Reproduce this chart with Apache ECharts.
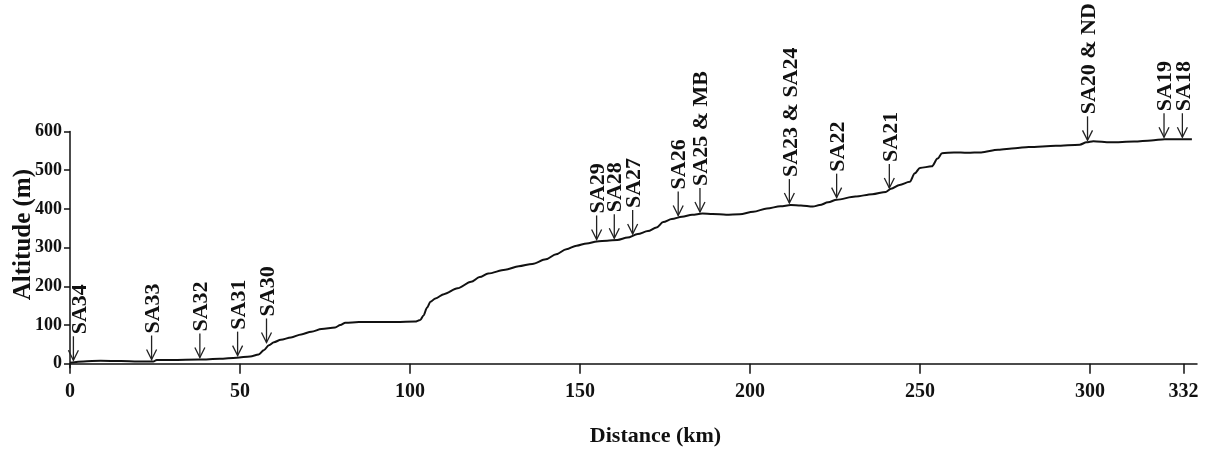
<!DOCTYPE html>
<html>
<head>
<meta charset="utf-8">
<script src="https://cdn.jsdelivr.net/npm/echarts@6/dist/echarts.min.js"></script>
<style>html,body{margin:0;padding:0;background:#fff}#chart{width:1205px;height:454px}</style>
</head>
<body>
<div id="chart"></div>
<script>
// Elevation profile (distance in km, altitude in m)
const distanceKm = [0,4,9,15,20,24.5,25.5,30,38,44,49,53,55.5,57,58.5,60,62,65,68,71,74,78,79.5,81,85,90,96,101.5,103,104,105,106,107.5,110,114,118,120.5,123,128,132,136,140,143,146,149,152,155,158,161,164,167,170,172.5,174.5,177,180,183,186,189,193,197,201,205,209,212,215,218.5,220.5,223,225.5,231,236,240,241.5,244,247,248.5,250,253.5,255.2,256.5,260,264,268,273,278,282,290,297,299,301,306,313,318,322,330];
const altitudeM = [3,6,8,7,6,6,10,10,11,13,16,19,24,35,48,56,62,68,76,83,90,94,100,106,108,108,108,109,113,125,145,160,169,180,195,212,224,233,243,252,258,270,283,296,305,311,316,318,320,326,335,343,352,366,374,380,385,388,387,385,386,393,401,407,410,409,406,410,417,424,432,438,444,452,462,470,492,506,510,530,544,546,545,546,553,557,560,563,566,572,575,572,574,577,580,580];

// Sampling stations
const stationNames = ['SA34','SA33','SA32','SA31','SA30','SA29','SA28','SA27','SA26','SA25 & MB','SA23 & SA24','SA22','SA21','SA20 & ND','SA19','SA18'];
const stationKm = [1,24,38.2,49.3,57.8,154.9,160.1,165.5,178.9,185.3,211.6,225.5,241,299.3,321.8,327.2];
const stationAlt = [4,6,11,16,50,316,319,330,378,387,410,424,449,572,580,580];

// Axis ticks
const xTickValues = [0,50,100,150,200,250,300,327.5];
const xTickLabels = ['0','50','100','150','200','250','300','332'];
const yTickValues = [0,100,200,300,400,500,600];

const FONT = 'Liberation Serif';
const INK = '#111';

const chart = echarts.init(document.getElementById('chart'), null, {renderer: 'canvas'});

const profile = distanceKm.map((d, i) => [d, altitudeM[i]]);
const stations = stationKm.map((d, i) => [d, stationAlt[i], stationNames[i]]);

chart.setOption({
  animation: false,
  backgroundColor: '#fff',
  grid: {left: 70, right: 8, top: 131.5, bottom: 86.3, containLabel: false, outerBoundsMode: 'none'},
  xAxis: {
    type: 'value', min: 0, max: 331.5,
    axisLine: {show: true, lineStyle: {color: INK, width: 1.5}},
    axisTick: {show: true, customValues: xTickValues, length: 10, lineStyle: {color: INK, width: 1.5}},
    axisLabel: {
      customValues: xTickValues, margin: 14,
      formatter: v => { const i = xTickValues.indexOf(v); return i >= 0 ? xTickLabels[i] : ''; },
      fontFamily: FONT, fontWeight: 'bold', fontSize: 20, color: INK
    },
    splitLine: {show: false},
    name: 'Distance (km)', nameLocation: 'middle', nameGap: 58, nameMoveOverlap: false,
    nameTextStyle: {fontFamily: FONT, fontWeight: 'bold', fontSize: 22, color: INK, padding: [0, 0, 0, 44]}
  },
  yAxis: {
    type: 'value', min: -10, max: 600,
    axisLine: {show: true, lineStyle: {color: INK, width: 1.5}},
    axisTick: {show: true, customValues: yTickValues, length: 6, lineStyle: {color: INK, width: 1.5}},
    axisLabel: {customValues: yTickValues, margin: 8, fontFamily: FONT, fontWeight: 'bold', fontSize: 18, color: INK},
    splitLine: {show: false},
    name: 'Altitude (m)', nameLocation: 'middle', nameGap: 34, nameMoveOverlap: false,
    nameTextStyle: {fontFamily: FONT, fontWeight: 'bold', fontSize: 25, color: INK, padding: [0, 0, 0, 30]}
  },
  series: [
    {
      type: 'line', data: profile, showSymbol: false, smooth: 0.3, smoothMonotone: 'x',
      lineStyle: {color: INK, width: 2}, z: 3
    },
    {
      type: 'custom', data: stations, clip: false, z: 4,
      renderItem: function (params, api) {
        const p = api.coord([api.value(0), api.value(1)]);
        const x = p[0], tip = p[1] - 2;
        const len = 24;
        // keep label clear of the y axis line
        const tx = Math.max(x + 1.5, params.coordSys.x + 10);
        return {
          type: 'group',
          children: [
            {type: 'line', shape: {x1: x, y1: tip - len, x2: x, y2: tip}, style: {stroke: '#222', lineWidth: 1.3}},
            {type: 'polyline', shape: {points: [[x - 5, tip - 10], [x, tip], [x + 5, tip - 10]]}, style: {stroke: '#222', lineWidth: 1.3, fill: null}},
            {type: 'text', x: tx, y: tip - len - 2, rotation: Math.PI / 2,
              style: {text: stations[params.dataIndex][2], x: 0, y: 0, align: 'left', verticalAlign: 'middle',
                fontFamily: FONT, fontWeight: 'bold', fontSize: 22, fill: INK}}
          ]
        };
      }
    }
  ]
});
</script>
</body>
</html>
